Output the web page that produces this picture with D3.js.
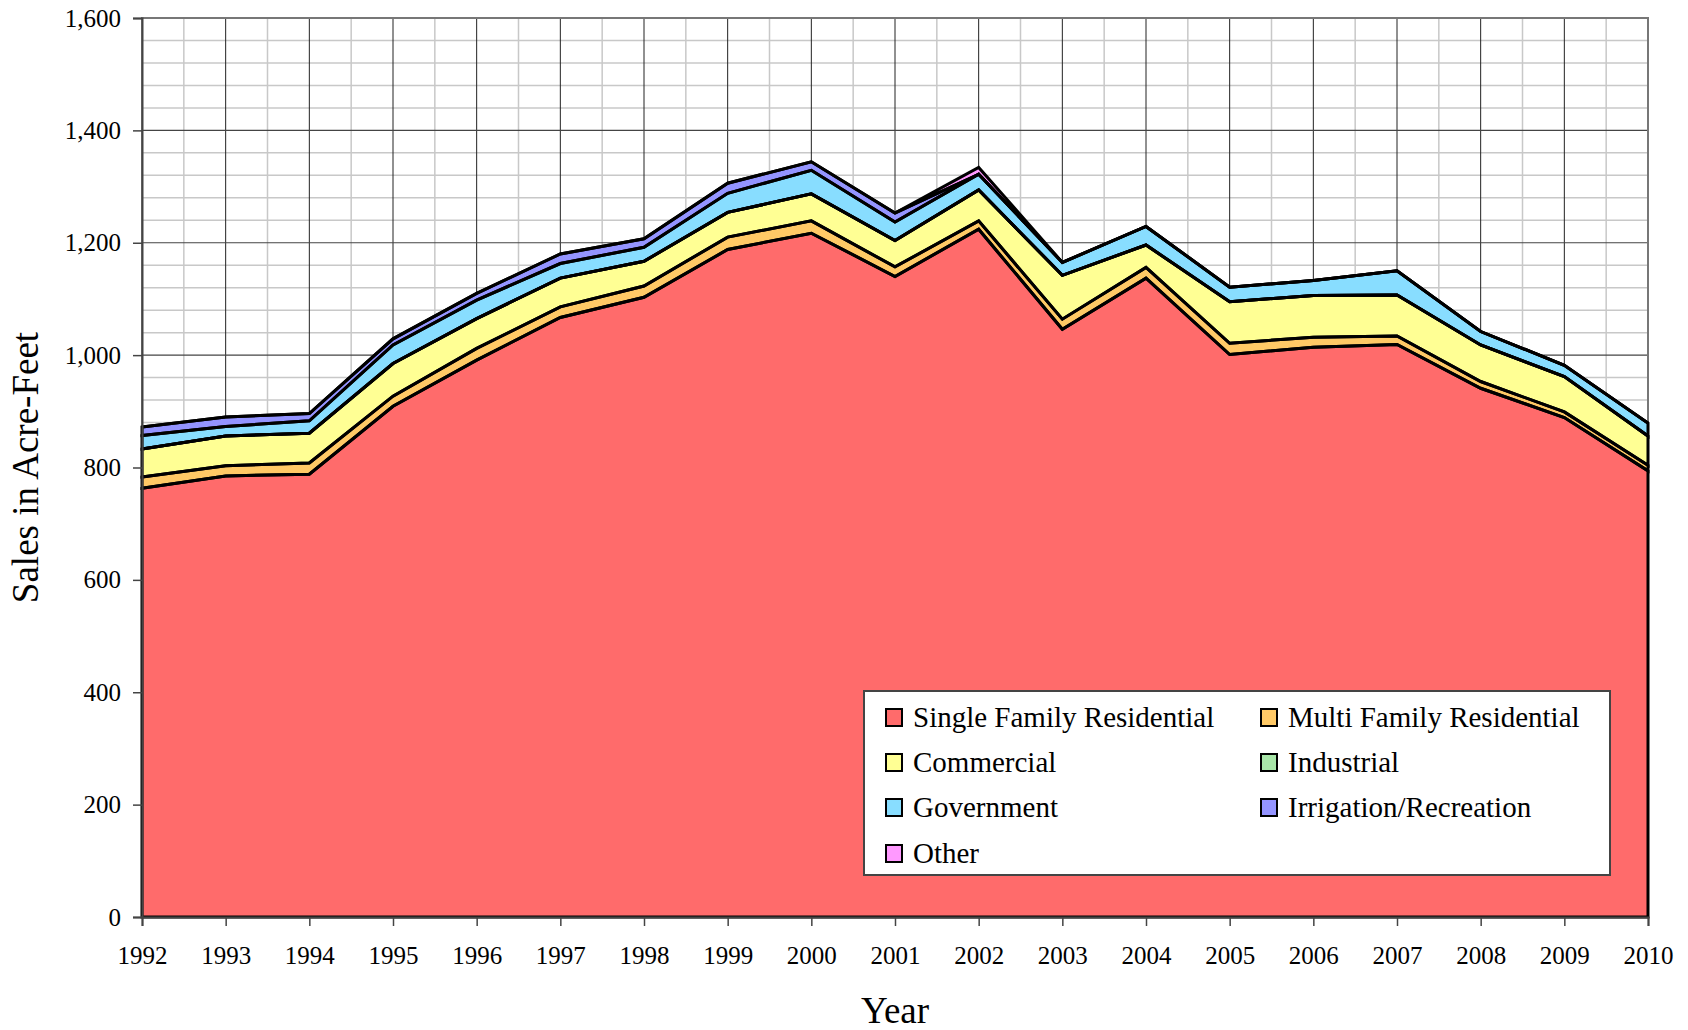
<!DOCTYPE html>
<html>
<head>
<meta charset="utf-8">
<script src="https://cdn.jsdelivr.net/npm/d3@7"></script>
<style>
  body { margin: 0; background: #fff; }
  text { font-family: "Liberation Serif", "Times New Roman", serif; fill: #000; }
</style>
</head>
<body>
<script>
// Data (acre-feet)
const years = [1992, 1993, 1994, 1995, 1996, 1997, 1998, 1999, 2000, 2001, 2002, 2003, 2004, 2005, 2006, 2007, 2008, 2009, 2010];
const single     = [763, 785, 788, 909, 991, 1067, 1103, 1188, 1217, 1140, 1224, 1046, 1137, 1001, 1014, 1019, 941, 889, 794];
const multi      = [20, 18, 20, 18, 21, 19, 20, 22, 22, 17, 15, 18, 19, 20, 18, 15, 12, 10, 10];
const commercial = [50, 53, 53, 58, 53, 51, 44, 44, 48, 47, 55, 78, 40, 74, 74, 73, 65, 63, 52];
const industrial = [0, 0, 0, 0, 0, 0, 0, 0, 0, 0, 0, 0, 0, 0, 0, 0, 0, 0, 0];
const government = [24, 17, 22, 33, 33, 26, 25, 34, 42, 33, 28, 23, 33, 26, 27, 43, 24, 20, 23];
const irrigation = [15, 17, 13, 11, 12, 17, 15, 18, 15, 16, 0, 0, 0, 0, 0, 0, 0, 0, 0];
const other      = [0, 0, 0, 0, 0, 0, 0, 0, 0, 0, 12, 0, 0, 0, 0, 0, 0, 0, 0];

const seriesNames = ["Single Family Residential", "Multi Family Residential", "Commercial", "Industrial",
                     "Government", "Irrigation/Recreation", "Other"];
const seriesColors = ["#ff6b6b", "#ffc966", "#ffff94", "#a8e6a8", "#88ddff", "#9494ff", "#ff99ff"];
const yTicks = [0, 200, 400, 600, 800, 1000, 1200, 1400, 1600];

const width = 1688, height = 1030;
const plotLeft = 142, plotRight = 1648, plotTop = 18, plotBottom = 917;

const svg = d3.select("body").append("svg")
  .attr("width", width)
  .attr("height", height);

const x = d3.scaleLinear().domain([1992, 2010]).range([plotLeft, plotRight]);
const y = d3.scaleLinear().domain([0, 1600]).range([plotBottom, plotTop]);

// table for the stack
const cols = [single, multi, commercial, industrial, government, irrigation, other];
const table = years.map((yr, i) => {
  const row = { year: yr };
  seriesNames.forEach((n, k) => row[n] = cols[k][i]);
  return row;
});
const stacked = d3.stack().keys(seriesNames)(table);

// grid: minor
const grid = svg.append("g");
const halfYears = years.slice(0, -1).map(d => d + 0.5);
grid.selectAll(".vminor").data(halfYears).enter().append("line")
  .attr("x1", d => x(d)).attr("x2", d => x(d))
  .attr("y1", plotTop).attr("y2", plotBottom)
  .attr("stroke", "#c8c8c8").attr("stroke-width", 1.5);
const minorY = d3.range(40, 1600, 40).filter(v => v % 200 !== 0);
grid.selectAll(".hminor").data(minorY).enter().append("line")
  .attr("x1", plotLeft).attr("x2", plotRight)
  .attr("y1", d => y(d)).attr("y2", d => y(d))
  .attr("stroke", "#c8c8c8").attr("stroke-width", 1.5);
// grid: major
grid.selectAll(".vmajor").data(years).enter().append("line")
  .attr("x1", d => x(d)).attr("x2", d => x(d))
  .attr("y1", plotTop).attr("y2", plotBottom)
  .attr("stroke", "#222").attr("stroke-width", 1);
grid.selectAll(".hmajor").data(yTicks).enter().append("line")
  .attr("x1", plotLeft).attr("x2", plotRight)
  .attr("y1", d => y(d)).attr("y2", d => y(d))
  .attr("stroke", "#444").attr("stroke-width", 1.2);

svg.append("rect")
  .attr("x", plotLeft).attr("y", plotTop)
  .attr("width", plotRight - plotLeft).attr("height", plotBottom - plotTop)
  .attr("fill", "none").attr("stroke", "#777").attr("stroke-width", 2);

// areas
const area = d3.area()
  .x(d => x(d.data.year))
  .y0(d => y(d[0]))
  .y1(d => y(d[1]));

svg.append("g").selectAll("path").data(stacked).enter().append("path")
  .attr("d", area)
  .attr("fill", (d, i) => seriesColors[i]);

svg.append("g").selectAll("path").data(stacked).enter().append("path")
  .attr("d", area)
  .attr("fill", "none")
  .attr("stroke", "#000")
  .attr("stroke-width", 3)
  .attr("stroke-linejoin", "miter");

// axes
const yAxis = svg.append("g")
  .attr("transform", `translate(${plotLeft},0)`)
  .call(d3.axisLeft(y).tickValues(yTicks).tickFormat(d3.format(",")).tickSize(9).tickPadding(12));
yAxis.select(".domain").attr("stroke", "#444").attr("stroke-width", 2);
yAxis.selectAll(".tick line").attr("stroke", "#444").attr("stroke-width", 1.5);
yAxis.selectAll("text").style("font-size", "25px").style("font-family", "'Liberation Serif', serif");

const xAxis = svg.append("g")
  .attr("transform", `translate(0,${plotBottom})`)
  .call(d3.axisBottom(x).tickValues(years).tickFormat(d3.format("d")).tickSize(9).tickPadding(20));
xAxis.select(".domain").attr("stroke", "#444").attr("stroke-width", 2);
xAxis.selectAll(".tick line").attr("stroke", "#444").attr("stroke-width", 1.5);
xAxis.selectAll("text").style("font-size", "25px").style("font-family", "'Liberation Serif', serif");

// axis titles
svg.append("text")
  .attr("x", (plotLeft + plotRight) / 2).attr("y", 1023)
  .attr("text-anchor", "middle")
  .style("font-size", "37px")
  .text("Year");

svg.append("text")
  .attr("transform", `translate(38,${(plotTop + plotBottom) / 2}) rotate(-90)`)
  .attr("text-anchor", "middle")
  .style("font-size", "37px")
  .text("Sales in Acre-Feet");

// legend
const legend = svg.append("g");
legend.append("rect")
  .attr("x", 864).attr("y", 691).attr("width", 746).attr("height", 184)
  .attr("fill", "#fff").attr("stroke", "#444").attr("stroke-width", 2);

const colX = [886, 1261];
const rowY = [717, 762, 807, 853];
const items = legend.selectAll(".item").data(seriesNames).enter().append("g")
  .attr("transform", (d, i) => `translate(${colX[i % 2]},${rowY[Math.floor(i / 2)]})`);
items.append("rect")
  .attr("x", 0).attr("y", -8).attr("width", 16).attr("height", 17)
  .attr("fill", (d, i) => seriesColors[i])
  .attr("stroke", "#000").attr("stroke-width", 2);
items.append("text")
  .attr("x", 27).attr("y", 10)
  .style("font-size", "29px")
  .text(d => d);
</script>
</body>
</html>
